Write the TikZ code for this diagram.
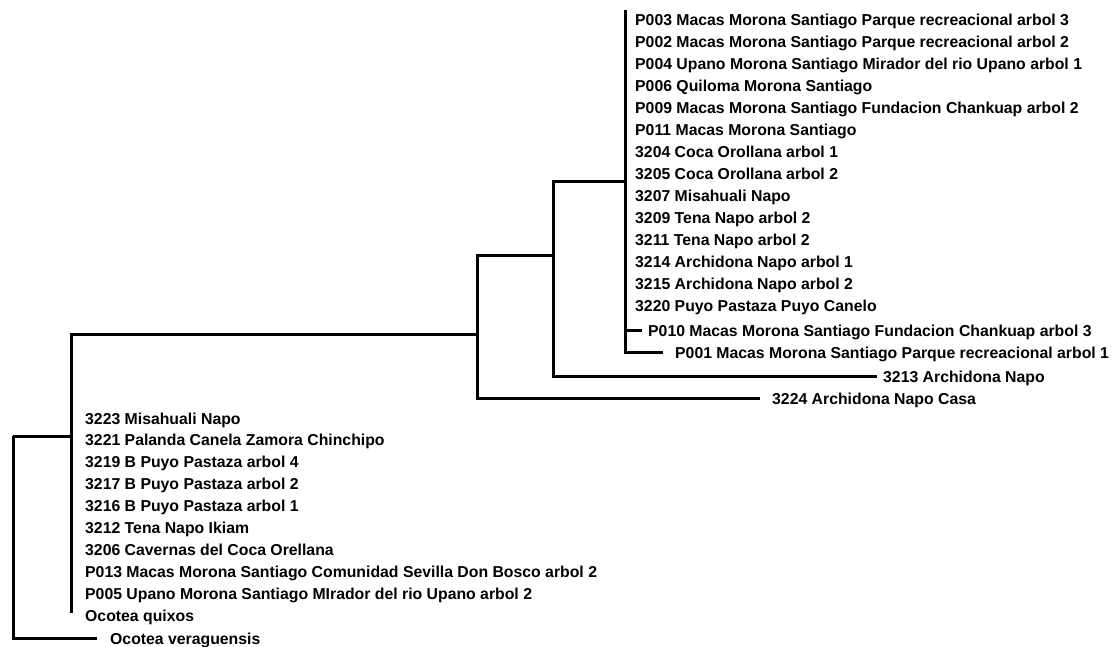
\documentclass[tikz,border=0pt]{standalone}
\usepackage{fontspec}
\setmainfont{Liberation Sans}
\usetikzlibrary{positioning,calc}

\begin{document}
\begin{tikzpicture}[x=1pt, y=-1pt, font=\fontsize{15.8}{18}\selectfont\bfseries,
    branch/.style={draw, line width=3pt, line join=miter},
    taxon/.style={anchor=base west, inner sep=0pt}]
    \useasboundingbox (0,0) rectangle (1112,646);
    % internal nodes of the tree
    \coordinate (root) at (13,436);
    \coordinate (nA) at (71,436);
    \coordinate (nB) at (477,334);
    \coordinate (nC) at (553,255);
    \coordinate (nD) at (625,181);
    \coordinate (dtop) at (625,10);
    \coordinate (abot) at (71,613);
    % tips with a branch
    \coordinate (tVer) at (97,638);
    \coordinate (t3224) at (760,398);
    \coordinate (t3213) at (877,376);
    \coordinate (tP010) at (642,330);
    \coordinate (tP001) at (663,352);
    \foreach \lab [count=\i from 0] in {P003 Macas Morona Santiago Parque recreacional arbol 3,
        P002 Macas Morona Santiago Parque recreacional arbol 2,
        P004 Upano Morona Santiago Mirador del rio Upano arbol 1,
        P006 Quiloma Morona Santiago,
        P009 Macas Morona Santiago Fundacion Chankuap arbol 2,
        P011 Macas Morona Santiago,
        3204 Coca Orollana arbol 1,
        3205 Coca Orollana arbol 2,
        3207 Misahuali Napo,
        3209 Tena Napo arbol 2,
        3211 Tena Napo arbol 2,
        3214 Archidona Napo arbol 1,
        3215 Archidona Napo arbol 2,
        3220 Puyo Pastaza Puyo Canelo}
      \node[taxon] (d\i) at (635,25+22*\i) {\lab};
    \foreach \lab [count=\i from 0] in {3223 Misahuali Napo,
        3221 Palanda Canela Zamora Chinchipo,
        3219 B Puyo Pastaza arbol 4,
        3217 B Puyo Pastaza arbol 2,
        3216 B Puyo Pastaza arbol 1,
        3212 Tena Napo Ikiam,
        3206 Cavernas del Coca Orellana,
        P013 Macas Morona Santiago Comunidad Sevilla Don Bosco arbol 2,
        P005 Upano Morona Santiago MIrador del rio Upano arbol 2,
        Ocotea quixos}
      \node[taxon] (a\i) at (85,424+21.9*\i) {\lab};
    \node[taxon] (lP010) at (648,336) {P010 Macas Morona Santiago Fundacion Chankuap arbol 3};
    \node[taxon] (lP001) at (675,358) {P001 Macas Morona Santiago Parque recreacional arbol 1};
    \node[taxon] (l3213) at (883,382) {3213 Archidona Napo};
    \node[taxon] (l3224) at (772,404) {3224 Archidona Napo Casa};
    \node[taxon] (lVer) at (110,644) {Ocotea veraguensis};
    \path[branch]
      (root) -- (nA)
      (root) |- (tVer)
      (nA) |- (nB)
      (nA) -- (abot)
      (nB) |- (nC)
      (nB) |- (t3224)
      (nC) |- (nD)
      (nC) |- (t3213)
      (nD) -- (dtop)
      (nD) |- (tP010)
      (nD) |- (tP001);
\end{tikzpicture}
\end{document}
